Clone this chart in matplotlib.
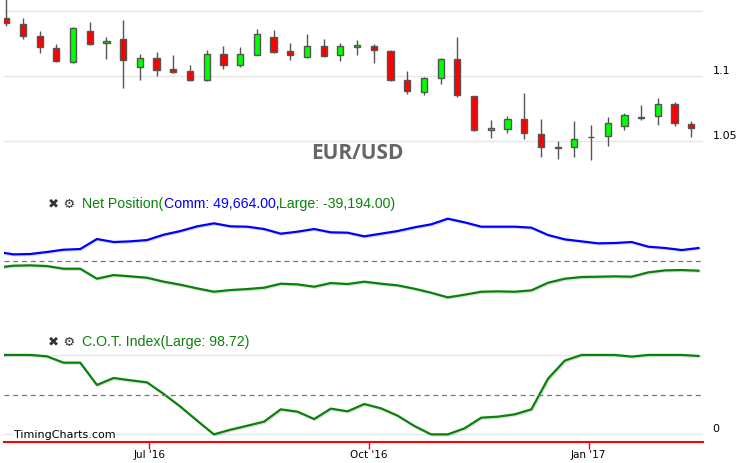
import matplotlib
matplotlib.use("Agg")
import matplotlib.pyplot as plt
import matplotlib.dates as mdates
import matplotlib.patheffects as pe
import pandas as pd
import numpy as np

# weekly EUR/USD candles
candle_dates = pd.date_range("2016-05-02", periods=42, freq="7D")
opens = [1.1446, 1.1400, 1.1308, 1.1215, 1.1112, 1.1346, 1.1254, 1.1285, 1.1069, 1.1138,
         1.1054, 1.1038, 1.0969, 1.1169, 1.1085, 1.1162, 1.1300, 1.1192, 1.1146, 1.1231,
         1.1162, 1.1223, 1.1231, 1.1192, 1.0969, 1.0877, 1.0985, 1.1131, 1.0846, 1.0585,
         1.0592, 1.0672, 1.0554, 1.0454, 1.0454, 1.0531, 1.0538, 1.0615, 1.0687, 1.0692,
         1.0785, 1.0631]
highs = [1.1600, 1.1446, 1.1348, 1.1248, 1.1377, 1.1418, 1.1302, 1.1433, 1.1172, 1.1187,
         1.1164, 1.1087, 1.1202, 1.1233, 1.1225, 1.1364, 1.1356, 1.1256, 1.1325, 1.1285,
         1.1256, 1.1279, 1.1246, 1.1200, 1.1041, 1.0992, 1.1138, 1.1302, 1.0847, 1.0664,
         1.0695, 1.0872, 1.0672, 1.0500, 1.0656, 1.0623, 1.0687, 1.0715, 1.0779, 1.0833,
         1.0800, 1.0656]
lows = [1.1389, 1.1289, 1.1182, 1.1112, 1.1105, 1.1244, 1.1133, 1.0912, 1.0974, 1.1005,
        1.1023, 1.0962, 1.0962, 1.1054, 1.1074, 1.1160, 1.1182, 1.1125, 1.1144, 1.1152,
        1.1118, 1.1162, 1.1105, 1.0967, 1.0862, 1.0854, 1.0938, 1.0838, 1.0577, 1.0523,
        1.0562, 1.0515, 1.0377, 1.0362, 1.0377, 1.0356, 1.0462, 1.0585, 1.0662, 1.0623,
        1.0615, 1.0531]
closes = [1.1408, 1.1308, 1.1223, 1.1115, 1.1369, 1.1246, 1.1269, 1.1123, 1.1138, 1.1046,
          1.1031, 1.0969, 1.1169, 1.1085, 1.1169, 1.1323, 1.1189, 1.1162, 1.1231, 1.1154,
          1.1231, 1.1238, 1.1200, 1.0969, 1.0885, 1.0985, 1.1136, 1.0854, 1.0585, 1.0602,
          1.0672, 1.0562, 1.0454, 1.0446, 1.0515, 1.0533, 1.0638, 1.0700, 1.0677, 1.0785,
          1.0638, 1.0600]

# weekly COT report values (thousands of contracts), first point is before the view
cot_dates = pd.date_range("2016-04-28", periods=43, freq="7D")
comm_net = [35.3, 24.8, 26.1, 34.0, 43.1, 45.7, 85.0, 73.2, 75.8, 81.0,
            101.9, 116.3, 134.6, 146.4, 134.6, 133.3, 124.2, 105.9, 113.7, 124.2,
            111.1, 109.8, 95.4, 105.9, 116.3, 130.7, 142.5, 164.7, 150.3, 133.3,
            133.3, 133.3, 129.4, 100.6, 83.6, 75.8, 68.0, 69.3, 73.2, 54.9,
            49.7, 41.8, 49.664]
large_net = [-27.4, -19.6, -18.3, -20.9, -31.4, -31.4, -70.6, -56.2, -61.4, -66.7,
             -82.3, -94.1, -108.5, -121.6, -115.0, -111.1, -105.9, -90.2, -92.8, -101.9,
             -87.6, -91.5, -82.3, -90.2, -96.7, -109.8, -125.5, -143.8, -133.3, -121.6,
             -120.2, -121.6, -116.3, -86.3, -70.6, -64.0, -62.7, -61.4, -62.7, -45.7,
             -37.9, -36.6, -39.194]
cot_index = [100, 100, 100, 98.3, 90.3, 90.3, 62.2, 71.0, 68.1, 65.5,
             50.8, 34.9, 17.2, 0, 5.9, 10.9, 16.0, 31.5, 28.6, 19.3,
             32.4, 29.0, 38.2, 32.8, 23.5, 10.5, 0, 0, 7.6, 21.0,
             22.3, 25.2, 31.5, 70.2, 92.9, 100, 100, 100, 97.9, 100,
             100, 100, 98.72]

W, H = 739, 463
GREEN = "#0a820a"
BLUE = "#0000ff"
GRID = "#e6e6e6"


def px_axes(top, bottom, left=4, right=703):
    # axes rectangle from pixel edges
    return [left / W, 1 - bottom / H, (right - left) / W, (bottom - top) / H]


fig = plt.figure(figsize=(W / 100, H / 100), dpi=100)
ax1 = fig.add_axes(px_axes(0, 180))
ax2 = fig.add_axes(px_axes(216, 306))
ax3 = fig.add_axes(px_axes(347, 442.3))

cx = mdates.date2num(candle_dates)
tx = mdates.date2num(cot_dates)
xlim = (cx[0] - 0.92, cx[0] + 291.9)

for ax in (ax1, ax2, ax3):
    ax.set_xlim(xlim)
    for s in ax.spines.values():
        s.set_visible(False)
    ax.set_axisbelow(True)
    ax.yaxis.tick_right()
    ax.tick_params(axis="y", length=0, pad=7, labelsize=8)

# candles
o = np.array(opens)
c = np.array(closes)
colors = np.where(c >= o, "#00ff00", "#ff0000")
ax1.vlines(cx, lows, highs, color="#555555", lw=1, zorder=2)
ax1.bar(cx, np.maximum(np.abs(c - o), 0.00005), bottom=np.minimum(o, c), width=2.6,
        color=colors, edgecolor="#555555", linewidth=1, zorder=3)
ax1.set_ylim(1.0202, 1.1587)
ax1.set_yticks([1.05, 1.1, 1.15])
ax1.set_yticklabels(["1.05", "1.1", ""])
for lbl in ax1.get_yticklabels():
    lbl.set_va("bottom")
ax1.grid(axis="y", color=GRID, lw=1)
ax1.set_xticks([])
ax1.text(0.506, 0.146, "EUR/USD", transform=ax1.transAxes, ha="center", va="center",
         fontsize=15, fontweight="bold", family="Open Sans", color="#666666")

# net positions
shadow = [pe.SimpleLineShadow(offset=(0.8, -0.8), shadow_color="gray", alpha=0.25), pe.Normal()]
ax2.plot(tx, comm_net, color=BLUE, lw=1.6, path_effects=shadow)
ax2.plot(tx, large_net, color=GREEN, lw=1.6, path_effects=shadow)
ax2.set_ylim(-177.6, 175.2)
ax2.axhline(sum(ax2.get_ylim()) / 2, color="#777777", lw=0.9, ls=(0, (4, 3)))
ax2.set_yticks([])
ax2.set_xticks([])

# COT index
ax3.plot(tx, cot_index, color=GREEN, lw=1.6, path_effects=shadow)
ax3.set_ylim(-10, 110)
ax3.axhline(50, color="#777777", lw=0.9, ls=(0, (4, 3)))
ax3.set_yticks([0, 100])
ax3.set_yticklabels(["0", ""])
for lbl in ax3.get_yticklabels():
    lbl.set_va("bottom")
ax3.grid(axis="y", color=GRID, lw=1)
ax3.spines["bottom"].set_visible(True)
ax3.spines["bottom"].set_color("red")
ax3.spines["bottom"].set_linewidth(1.5)
ax3.xaxis.set_major_locator(mdates.MonthLocator(bymonth=[1, 7, 10]))
ax3.xaxis.set_major_formatter(mdates.DateFormatter("%b '%y"))
ax3.tick_params(axis="x", colors="red", labelcolor="black", length=5, width=1,
                pad=0.5, labelsize=7.5)


def title_row(y_px, pieces):
    # icons, then the coloured pieces chained one after the other
    fig.text(48 / W, 1 - y_px / H, "\u2716 \u2699", color="#333333", fontsize=9.5,
             family="DejaVu Sans", ha="left", va="center")
    prev = fig.text(82.5 / W, 1 - y_px / H, pieces[0][0], color=pieces[0][1],
                    fontsize=10.2, family="Liberation Sans", ha="left", va="center")
    for txt, col in pieces[1:]:
        prev = ax1.annotate(txt, xy=(1, 0), xycoords=prev, va="bottom", ha="left",
                            color=col, fontsize=10.2, family="Liberation Sans",
                            annotation_clip=False)


title_row(204.3, [("Net Position(", GREEN), ("Comm: 49,664.00,", BLUE),
                  ("Large: -39,194.00)", GREEN)])
title_row(342.3, [("C.O.T. Index(Large: 98.72)", GREEN)])

fig.text(14 / W, 1 - 434.7 / H, "TimingCharts.com", fontsize=8, color="black",
         ha="left", va="center",
         bbox=dict(facecolor="white", edgecolor="none", pad=0.5))

fig.savefig("out.png", dpi=100, facecolor="white")
